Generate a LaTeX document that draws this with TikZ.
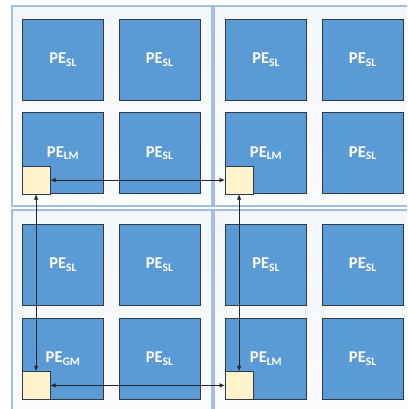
\documentclass[tikz,border=0pt]{standalone}
\usepackage{fontspec}
\setmainfont{Carlito}
\usetikzlibrary{arrows.meta}
\definecolor{clusterfill}{HTML}{F3F6FB}
\definecolor{clusterfilltwo}{HTML}{FAFBFD}
\definecolor{clusterline}{HTML}{A4BEE0}
\definecolor{pefill}{HTML}{5B9BD5}
\definecolor{peline}{HTML}{2F3A45}
\definecolor{memfill}{HTML}{FFF2CC}
\newcommand{\pelabel}[1]{\textbf{\fontsize{16.5}{16.5}\selectfont PE\raisebox{-0.17em}{\fontsize{11.5}{11.5}\selectfont #1}}}
\begin{document}
\begin{tikzpicture}[x=1pt,y=-1pt,
  cluster/.style={draw=clusterline, line width=1.2pt, top color=clusterfill, bottom color=clusterfilltwo},
  pebox/.style={draw=peline, line width=0.7pt, fill=pefill, minimum width=81pt, minimum height=81pt, inner sep=0pt, text=white, anchor=north west},
  membox/.style={draw=peline, line width=0.7pt, fill=memfill, minimum width=27.5pt, minimum height=27.5pt, inner sep=0pt, anchor=north west},
  link/.style={draw=black!85, line width=0.7pt, {Latex[length=5.5pt,width=4.5pt]}-{Latex[length=5.5pt,width=4.5pt]}}
]
\useasboundingbox (0,0) rectangle (407,409);
\begin{scope}
\clip (0,0) rectangle (407,409);
\fill[white] (0,0) rectangle (407,409);
% clusters
\draw[cluster] (12,6) rectangle (212,206);
\draw[cluster] (214,6) rectangle (420,206);
\draw[cluster] (12,210) rectangle (212,420);
\draw[cluster] (214,210) rectangle (420,420);
\end{scope}
% top-left cluster
\node[pebox] (tl1) at (22,19) {\pelabel{SL}};
\node[pebox] (tl2) at (118.5,19) {\pelabel{SL}};
\node[pebox] (tl3) at (22,112.3) {\pelabel{LM}};
\node[pebox] (tl4) at (118.5,112.3) {\pelabel{SL}};
% top-right cluster
\node[pebox] (tr1) at (225,19) {\pelabel{SL}};
\node[pebox] (tr2) at (321.7,19) {\pelabel{SL}};
\node[pebox] (tr3) at (225,112.3) {\pelabel{LM}};
\node[pebox] (tr4) at (321.7,112.3) {\pelabel{SL}};
% bottom-left cluster
\node[pebox] (bl1) at (22,224) {\pelabel{SL}};
\node[pebox] (bl2) at (118.5,224) {\pelabel{SL}};
\node[pebox] (bl3) at (22,317.5) {\pelabel{GM}};
\node[pebox] (bl4) at (118.5,317.5) {\pelabel{SL}};
% bottom-right cluster
\node[pebox] (br1) at (225,224) {\pelabel{SL}};
\node[pebox] (br2) at (321.7,224) {\pelabel{SL}};
\node[pebox] (br3) at (225,317.5) {\pelabel{LM}};
\node[pebox] (br4) at (321.7,317.5) {\pelabel{SL}};
% memory boxes
\node[membox] (mtl) at (22,166) {};
\node[membox] (mtr) at (225,166) {};
\node[membox] (mbl) at (22,371.3) {};
\node[membox] (mbr) at (225,371.3) {};
% links
\draw[link] (mtl.east) -- (mtr.west);
\draw[link] (mbl.east) -- (mbr.west);
\draw[link] (mtl.south) -- (mbl.north);
\draw[link] (mtr.south) -- (mbr.north);
\end{tikzpicture}
\end{document}
